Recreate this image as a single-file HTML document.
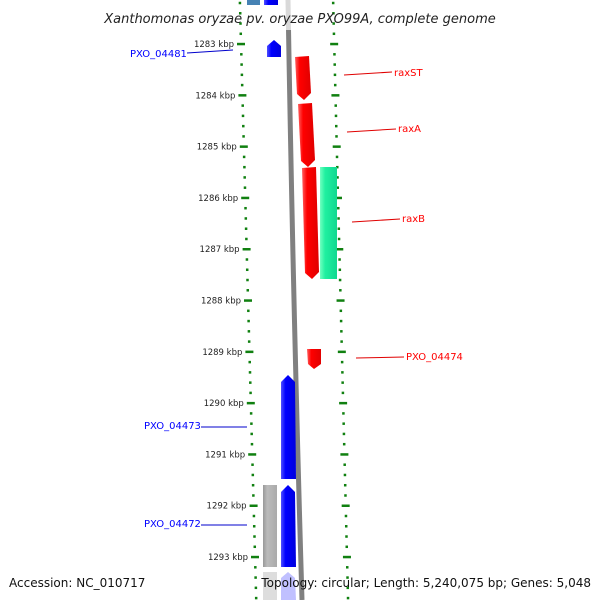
<!DOCTYPE html>
<html><head><meta charset="utf-8"><style>
body{margin:0;background:#fff}
svg{display:block;font-family:"DejaVu Sans","Liberation Sans",sans-serif}
</style></head><body>
<svg id="c" width="600" height="600" viewBox="0 0 600 600" xmlns="http://www.w3.org/2000/svg">
<defs>
<linearGradient id="gr" x1="0" x2="1"><stop offset="0" stop-color="#ff6060"/><stop offset="0.3" stop-color="#ff0000"/><stop offset="1" stop-color="#e00000"/></linearGradient>
<linearGradient id="gb" x1="0" x2="1"><stop offset="0" stop-color="#5050ff"/><stop offset="0.3" stop-color="#0000ff"/><stop offset="1" stop-color="#0000dd"/></linearGradient>
<linearGradient id="gg" x1="0" x2="1"><stop offset="0" stop-color="#70ffc0"/><stop offset="0.3" stop-color="#20f0a0"/><stop offset="1" stop-color="#10d890"/></linearGradient>
<linearGradient id="gy" x1="0" x2="1"><stop offset="0" stop-color="#999"/><stop offset="0.3" stop-color="#bbb"/><stop offset="1" stop-color="#aaa"/></linearGradient>
</defs>
<g id="rulers"></g>
<path d="M288,0 Q293,300 302,600" stroke="#808080" stroke-width="5" fill="none"/>
<rect x="282" y="0" width="12" height="30" fill="#fff" opacity="0.7"/>
<g id="genes">
<rect x="247" y="0" width="13" height="5" fill="#4682b4"/>
<rect x="264" y="0" width="14" height="5" fill="url(#gb)"/>
<polygon points="267,46 274,40 281,46 281,57 267,57" fill="url(#gb)"/>
<polygon points="295,57 309,56 311,93 304,100 297,94" fill="url(#gr)"/>
<polygon points="298,104 312,103 315,160 308,167 301,161" fill="url(#gr)"/>
<polygon points="302,168 316,167 319,272 312,279 305,273" fill="url(#gr)"/>
<rect x="320" y="167" width="17" height="112" fill="url(#gg)"/>
<polygon points="307,349 321,349 321,364 314,369 308,364" fill="url(#gr)"/>
<polygon points="281,382 288,375 295,382 296,479 281,479" fill="url(#gb)"/>
<rect x="263" y="485" width="14" height="82" fill="url(#gy)"/>
<polygon points="281,492 288,485 295,492 296,567 281,567" fill="url(#gb)"/>
<rect x="263" y="572" width="14" height="28" fill="#ddd"/>
<polygon points="281,578 288,572 295,578 296,600 281,600" fill="#c0c0ff"/>
</g>
<g font-size="10">
<line x1="187" y1="53" x2="233" y2="50" stroke="#0000cc"/>
<text x="130" y="57" fill="#0000ff">PXO_04481</text>
<line x1="344" y1="75" x2="392" y2="72" stroke="#e00000"/>
<text x="394" y="76" fill="#ff0000">raxST</text>
<line x1="347" y1="132" x2="396" y2="129" stroke="#e00000"/>
<text x="398" y="132" fill="#ff0000">raxA</text>
<line x1="352" y1="222" x2="400" y2="219" stroke="#e00000"/>
<text x="402" y="222" fill="#ff0000">raxB</text>
<line x1="356" y1="358" x2="404" y2="357" stroke="#e00000"/>
<text x="406" y="360" fill="#ff0000">PXO_04474</text>
<line x1="201" y1="427" x2="247" y2="427" stroke="#0000cc"/>
<text x="144" y="429" fill="#0000ff">PXO_04473</text>
<line x1="201" y1="525" x2="247" y2="525" stroke="#0000cc"/>
<text x="144" y="527" fill="#0000ff">PXO_04472</text>
</g>
<text x="300" y="23" text-anchor="middle" font-size="13" font-style="italic" fill="#222">Xanthomonas oryzae pv. oryzae PXO99A, complete genome</text>
<text x="9" y="587" font-size="12" fill="#111">Accession: NC_010717</text>
<text x="591" y="587" text-anchor="end" font-size="12" fill="#111">Topology: circular; Length: 5,240,075 bp; Genes: 5,048</text>
</svg>
<script>
const tickLabels=["1283 kbp","1284 kbp","1285 kbp","1286 kbp","1287 kbp","1288 kbp","1289 kbp","1290 kbp","1291 kbp","1292 kbp","1293 kbp"];
const tickKbp=[1283,1284,1285,1286,1287,1288,1289,1290,1291,1292,1293];
const kbpStart=1283, kbpEnd=1293, yStart=44, yEnd=557;
const NS="http://www.w3.org/2000/svg";
const g=document.getElementById('rulers');
function yOf(k){return yStart+(k-kbpStart)*(yEnd-yStart)/(kbpEnd-kbpStart);}
function lx(y){return 241+(y-44)*14/513;}
function rx(y){return 334+(y-38)*13/521;}
function rect(x,y,w,h,name){const r=document.createElementNS(NS,'rect');
r.setAttribute('x',x);r.setAttribute('y',y);r.setAttribute('width',w);r.setAttribute('height',h);r.setAttribute('fill','#108010');


g.appendChild(r);}
for(let k=kbpStart-1;k<=kbpEnd+1;k+=0.2){
  const kk=Math.round(k*10)/10;const y=yOf(kk);if(y<0||y>600)continue;
  const major=Math.abs(kk-Math.round(kk))<0.01;
  if(major){rect(lx(y)-4,y-1.2,8,2.5,'left-major-tick');rect(rx(y)-4,y-1.2,8,2.5,'right-major-tick');}
  else{rect(lx(y)-1.2,y-1.2,2.5,2.5,'left-minor-tick');rect(rx(y)-1.2,y-1.2,2.5,2.5,'right-minor-tick');}
}
tickKbp.forEach((k,i)=>{const y=yOf(k);const t=document.createElementNS(NS,'text');
t.setAttribute('x',lx(y)-7);t.setAttribute('y',y+3);t.setAttribute('text-anchor','end');t.setAttribute('font-size','8.5');t.setAttribute('fill','#222');


t.textContent=tickLabels[i];g.appendChild(t);});
</script>
</body></html>
